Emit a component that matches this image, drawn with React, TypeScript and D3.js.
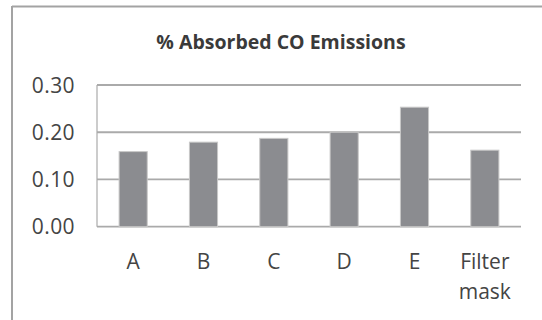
import React from "react";
import * as d3 from "d3";

const categories: string[][] = [["A"], ["B"], ["C"], ["D"], ["E"], ["Filter", "mask"]];
const values: number[] = [0.159, 0.179, 0.187, 0.2, 0.253, 0.162];
const yTicks: number[] = [0, 0.1, 0.2, 0.3];
const title = "% Absorbed CO Emissions";

const W = 542;
const H = 320;
const plot = { left: 98, right: 520, top: 85, bottom: 226.7 };

export default function App() {
  const x = d3
    .scaleBand<number>()
    .domain(categories.map((_, i) => i))
    .range([plot.left, plot.right])
    .paddingInner(0.6)
    .paddingOuter(0.3);
  const y = d3.scaleLinear().domain([0, 0.3]).range([plot.bottom, plot.top]);
  const fmt = d3.format(".2f");
  const font = "'Open Sans', sans-serif";

  return (
    <div style={{ position: "fixed", left: 0, top: 0, width: W, height: H, background: "#fff" }}>
      <svg width={W} height={H} style={{ display: "block" }}>
        <rect x={0} y={0} width={W} height={H} fill="#fff" />
        {/* chart frame */}
        <line x1={12} y1={6.5} x2={W} y2={6.5} stroke="#a3a3a3" strokeWidth={2} />
        <line x1={12} y1={6} x2={12} y2={H} stroke="#a3a3a3" strokeWidth={2} />
        <text
          x={281}
          y={48.5}
          textAnchor="middle"
          fontFamily={font}
          fontWeight="bold"
          fontSize={19.5}
          fill="#3a3a3a"
        >
          {title}
        </text>
        {/* gridlines */}
        {yTicks.map((t) => (
          <line
            key={"g" + t}
            x1={plot.left - 1}
            x2={plot.right + 1}
            y1={y(t)}
            y2={y(t)}
            stroke="#aaaaaa"
            strokeWidth={1.8}
          />
        ))}
        <line x1={plot.left - 1} x2={plot.left - 1} y1={y(0.3)} y2={y(0)} stroke="#aaaaaa" strokeWidth={1.2} />
        {/* y labels */}
        {yTicks.map((t) => (
          <text
            key={"t" + t}
            x={75}
            y={y(t)}
            dy="0.36em"
            textAnchor="end"
            fontFamily={font}
            fontSize={21}
            letterSpacing={0.4}
            fill="#444"
          >
            {fmt(t)}
          </text>
        ))}
        {/* bars */}
        {values.map((v, i) => (
          <rect
            key={"b" + i}
            x={x(i)!}
            y={y(v)}
            width={x.bandwidth()}
            height={y(0) - y(v)}
            fill="#8b8c90"
            stroke="#c8c8c8"
            strokeWidth={1}
          />
        ))}
        {/* category labels */}
        {categories.map((lines, i) => (
          <text
            key={"c" + i}
            x={x(i)! + x.bandwidth() / 2}
            y={268.5}
            textAnchor="middle"
            fontFamily={font}
            fontSize={21}
            fill="#444"
          >
            {lines.map((l, j) => (
              <tspan key={j} x={x(i)! + x.bandwidth() / 2} y={268.5 + j * 30}>
                {l}
              </tspan>
            ))}
          </text>
        ))}
      </svg>
    </div>
  );
}
